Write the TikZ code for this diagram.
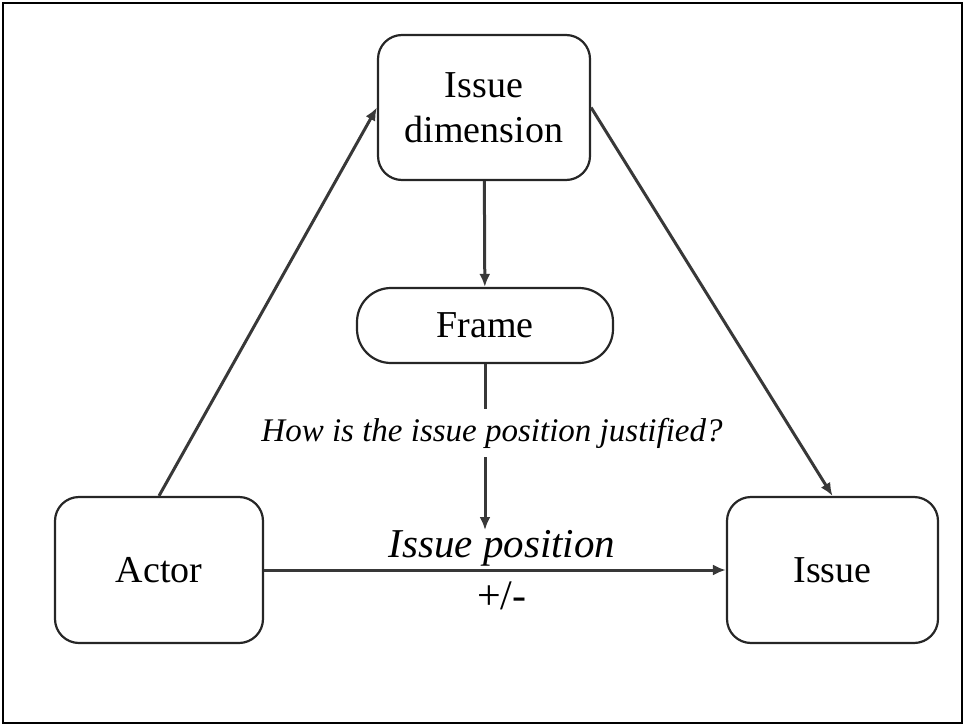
\documentclass[tikz,border=0pt]{standalone}
\usepackage{fontspec}
\setmainfont{Liberation Serif}
\newfontfamily\signfont{Liberation Sans}
\usetikzlibrary{arrows.meta}
\usetikzlibrary{positioning}

\begin{document}
\begin{tikzpicture}[
    x=1pt, y=-1pt,
    link/.style={-{Latex[length=13pt, width=11pt]}, draw=black!78, line width=3pt},
    plain/.style={draw=black!78, line width=3pt},
    box/.style={rectangle, rounded corners=24pt, draw=black!85, line width=2.2pt,
        align=center, font=\fontsize{38}{45}\selectfont},
    pill/.style={box, rounded corners=34pt},
    note/.style={font=\fontsize{33}{38}\selectfont\itshape, inner sep=9pt},
    stance/.style={font=\fontsize{41}{46}\selectfont\itshape, inner sep=2pt},
    sign/.style={font=\fontsize{42}{46}\selectfont, inner sep=10pt},
    ]

    \useasboundingbox (0,0) rectangle (965,727);
    \draw [line width=2.5pt] (3,3) rectangle (962,723);

    \node (dim) [box, minimum width=212pt, minimum height=145pt] at (484,107.5)
        {Issue\\dimension};
    \node (frame) [pill, minimum width=256pt, minimum height=75pt] at (485,325.5)
        {Frame};
    \node (actor) [box, minimum width=208pt, minimum height=146pt] at (159,570)
        {Actor};
    \node (issue) [box, minimum width=211pt, minimum height=146pt] at (832.5,570)
        {Issue};
    \node (question) [note] at (492,433) {How is the issue position justified?};
    \coordinate (drop) at (485,530);

    \draw [link] (actor.north) -- (dim.west);
    \draw [link] (dim.east) -- (issue.north);
    \draw [link] (dim) -- (frame);
    \draw [plain] (frame) -- (frame |- question.north);
    \draw [link] (frame |- question.south) -- (drop);
    \draw [link] (actor) -- node (pos) [stance, above, pos=0.515] {Issue position}
        node (pm) [sign, below, pos=0.515] {+/-} (issue);
\end{tikzpicture}
\end{document}
